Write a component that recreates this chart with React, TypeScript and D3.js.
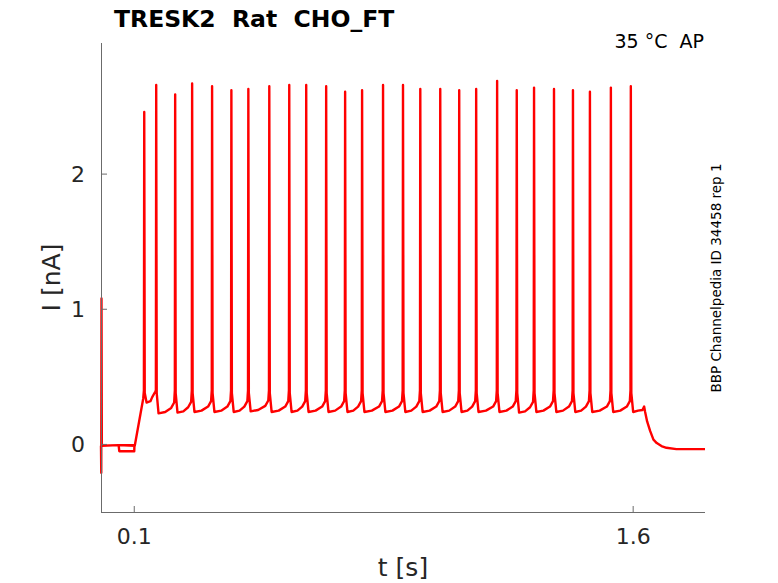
import * as d3 from "d3";

// recording
const spikeTimes = [
  0.130, 0.166, 0.223, 0.274, 0.334, 0.392, 0.443, 0.506, 0.566, 0.617, 0.677, 0.734, 0.785, 0.848,
  0.908, 0.960, 1.020, 1.077, 1.128, 1.191, 1.250, 1.302, 1.362, 1.419, 1.470, 1.533, 1.593,
];
const spikePeaks = [
  2.46, 2.66, 2.59, 2.67, 2.65, 2.62, 2.63, 2.65, 2.66, 2.66, 2.65, 2.61, 2.62, 2.66,
  2.66, 2.63, 2.63, 2.62, 2.63, 2.69, 2.62, 2.64, 2.63, 2.62, 2.61, 2.64, 2.65,
];
const troughs = [
  0.31, 0.23, 0.235, 0.24, 0.24, 0.24, 0.245, 0.24, 0.24, 0.24, 0.24, 0.24, 0.24, 0.24,
  0.24, 0.24, 0.24, 0.24, 0.24, 0.24, 0.235, 0.24, 0.24, 0.24, 0.24, 0.24, 0.24,
];
const startTrace: [number, number][] = [
  [0.0, -0.01], [0.0008, -0.21], [0.0015, 1.08], [0.0025, -0.01], [0.052, -0.005],
  [0.1005, -0.005], [0.1, -0.05], [0.055, -0.05], [0.053, -0.005], [0.1015, -0.01], [0.127, 0.34],
];
const endTrace: [number, number][] = [
  [1.615, 0.25], [1.628, 0.255], [1.633, 0.28], [1.636, 0.24], [1.642, 0.17], [1.651, 0.1],
  [1.661, 0.035], [1.671, 0.01], [1.685, -0.012], [1.70, -0.025], [1.73, -0.035], [1.816, -0.035],
];
const xTicks = [0.1, 1.6];
const yTicks = [0, 1, 2];

const width = 778;
const height = 583;
const left = 101, right = 705, top = 43, bottom = 512;

export default function App() {
  const x = d3.scaleLinear([0, 1.816], [left, right]);
  const y = d3.scaleLinear([-0.5, 2.97], [bottom, top]);

  const pts: [number, number][] = [...startTrace];
  spikeTimes.forEach((t, i) => {
    const tr = troughs[i];
    pts.push([t - 0.001, 0.4], [t, spikePeaks[i]], [t + 0.0015, 0.38], [t + 0.007, tr]);
    const next = spikeTimes[i + 1];
    if (next !== undefined) {
      const gap = next - t - 0.007;
      pts.push(
        [t + 0.007 + gap * 0.4, tr + 0.01],
        [next - 0.012, tr + 0.04],
        [next - 0.003, tr + 0.08],
      );
    }
  });
  pts.push(...endTrace);

  const line = d3.line<[number, number]>((d) => x(d[0]), (d) => y(d[1]));
  const axisColor = "#6b6b6b";
  const textColor = "#262626";
  const font = "DejaVu Sans, sans-serif";

  return (
    <svg width={width} height={height} style={{ position: "absolute", left: 0, top: 0 }} fontFamily={font}>
      <rect width={width} height={height} fill="white" />
      <path d={line(pts) ?? ""} fill="none" stroke="#ff0000" strokeWidth={2.4} strokeLinejoin="round" />
      <g stroke={axisColor} strokeWidth={1}>
        <line x1={left + 0.5} x2={left + 0.5} y1={top} y2={bottom} />
        <line x1={left} x2={right} y1={bottom + 0.5} y2={bottom + 0.5} />
        {xTicks.map((t) => (
          <line key={t} x1={x(t)} x2={x(t)} y1={bottom} y2={bottom - 6} />
        ))}
        {yTicks.map((t) => (
          <line key={t} x1={left} x2={left + 6} y1={y(t)} y2={y(t)} />
        ))}
      </g>
      <g fill={textColor} fontSize={22}>
        {xTicks.map((t) => (
          <text key={t} x={x(t)} y={544} textAnchor="middle">{t}</text>
        ))}
        {yTicks.map((t) => (
          <text key={t} x={85} y={y(t) + 8} textAnchor="end">{t}</text>
        ))}
      </g>
      <text x={(left + right) / 2} y={576} textAnchor="middle" fontSize={25} fill={textColor}>t [s]</text>
      <text transform={`translate(60,${(top + bottom) / 2}) rotate(-90)`} textAnchor="middle" fontSize={25} fill={textColor}>I [nA]</text>
      <text x={114} y={27} fontSize={23.5} fontWeight="bold" fill="black" style={{ whiteSpace: "pre" }}>TRESK2  Rat  CHO_FT</text>
      <text x={704} y={48} textAnchor="end" fontSize={19} fill="black" style={{ whiteSpace: "pre" }}>35 °C  AP</text>
      <text transform={`translate(721,278) rotate(-90)`} textAnchor="middle" fontSize={13.5} fill="black">BBP Channelpedia ID 34458 rep 1</text>
    </svg>
  );
}
